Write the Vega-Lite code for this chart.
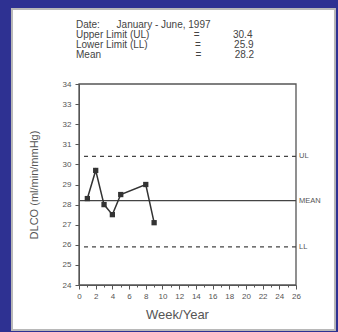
{
  "$schema": "https://vega.github.io/schema/vega-lite/v6.json",
  "width": 217,
  "height": 201,
  "autosize": {"type": "none"},
  "padding": {"left": 79, "top": 84, "right": 42, "bottom": 47},
  "background": "#2e3192",
  "config": {
    "view": {"stroke": null},
    "font": "Liberation Sans",
    "axisX": {
      "values": [0,1,2,3,4,5,6,7,8,9,10,11,12,13,14,15,16,17,18,19,20,21,22,23,24,25,26],
      "tickCount": 26,
      "labelExpr": "datum.value % 2 == 0 ? datum.label : ''",
      "tickSize": 4,
      "grid": false, "domainColor": "#555", "tickColor": "#555",
      "labelFontSize": 8, "labelColor": "#555", "labelPadding": 3, "labelFlush": false, "labelOverlap": false,
      "titleFontSize": 13, "titleFontWeight": "normal", "titleColor": "#555", "titlePadding": 8, "titleX": 98
    },
    "axisY": {
      "values": [24,25,26,27,28,29,30,31,32,33,34],
      "tickCount": 10,
      "tickSize": 4, "grid": false, "domainColor": "#555", "tickColor": "#555",
      "labelFontSize": 8, "labelColor": "#555", "labelPadding": 4,
      "titleFontSize": 11, "titleFontWeight": "normal", "titleColor": "#555", "titlePadding": 23
    }
  },
  "title": {
    "text": [
      "Date:\u00a0\u00a0\u00a0\u00a0\u00a0\u00a0January - June, 1997",
      "Upper Limit (UL)\u00a0\u00a0\u00a0\u00a0\u00a0\u00a0\u00a0\u00a0\u00a0\u00a0\u00a0\u00a0\u00a0\u00a0\u00a0\u00a0=\u00a0\u00a0\u00a0\u00a0\u00a0\u00a0\u00a0\u00a0\u00a0\u00a0\u00a0\u00a030.4",
      "Lower Limit (LL)\u00a0\u00a0\u00a0\u00a0\u00a0\u00a0\u00a0\u00a0\u00a0\u00a0\u00a0\u00a0\u00a0\u00a0\u00a0\u00a0\u00a0=\u00a0\u00a0\u00a0\u00a0\u00a0\u00a0\u00a0\u00a0\u00a0\u00a0\u00a0\u00a025.9",
      "Mean\u00a0\u00a0\u00a0\u00a0\u00a0\u00a0\u00a0\u00a0\u00a0\u00a0\u00a0\u00a0\u00a0\u00a0\u00a0\u00a0\u00a0\u00a0\u00a0\u00a0\u00a0\u00a0\u00a0\u00a0\u00a0\u00a0\u00a0\u00a0\u00a0\u00a0\u00a0\u00a0\u00a0\u00a0=\u00a0\u00a0\u00a0\u00a0\u00a0\u00a0\u00a0\u00a0\u00a0\u00a0\u00a0\u00a028.2"
    ],
    "anchor": "start",
    "frame": "group",
    "dx": -3,
    "offset": -52,
    "fontSize": 10,
    "fontWeight": "normal",
    "color": "#444",
    "lineHeight": 10,
    "zindex": 1
  },
  "datasets": {
    "limits": [
      {"name": "UL", "value": 30.4},
      {"name": "MEAN", "value": 28.2},
      {"name": "LL", "value": 25.9}
    ],
    "dlco": [
      {"week": 1, "dlco": 28.3},
      {"week": 2, "dlco": 29.7},
      {"week": 3, "dlco": 28.0},
      {"week": 4, "dlco": 27.5},
      {"week": 5, "dlco": 28.5},
      {"week": 8, "dlco": 29.0},
      {"week": 9, "dlco": 27.1}
    ]
  },
  "layer": [
    {
      "data": {"values": [{}]},
      "mark": {"type": "rect", "fill": "white", "stroke": "#b8b8b8", "strokeWidth": 2},
      "encoding": {
        "x": {"datum": -8.03, "type": "quantitative", "scale": {"domain": [0, 26], "nice": false, "zero": false}, "title": "Week/Year", "axis": {"zindex": 1, "tickSize": {"condition": {"test": "datum.value % 2 == 1", "value": 2}, "value": 4}}},
        "x2": {"datum": 30.67},
        "y": {"datum": 21.76, "type": "quantitative", "scale": {"domain": [24, 34], "nice": false, "zero": false}, "title": "DLCO (ml/min/mmHg)", "axis": {"zindex": 1}},
        "y2": {"datum": 37.73}
      }
    },
    {
      "data": {"values": [{}]},
      "mark": {"type": "rect", "fill": null, "stroke": "#555", "strokeWidth": 1.3},
      "encoding": {
        "x": {"datum": 0, "type": "quantitative", "title": "Week/Year", "axis": {"zindex": 1, "tickSize": {"condition": {"test": "datum.value % 2 == 1", "value": 2}, "value": 4}}},
        "x2": {"datum": 26},
        "y": {"datum": 24, "type": "quantitative", "title": "DLCO (ml/min/mmHg)", "axis": {"zindex": 1}},
        "y2": {"datum": 34}
      }
    },
    {
      "data": {"name": "limits"},
      "mark": {"type": "rule", "color": "#444", "strokeWidth": 1.2},
      "encoding": {
        "y": {"field": "value", "type": "quantitative", "title": "DLCO (ml/min/mmHg)", "axis": {"zindex": 1}},
        "strokeDash": {"field": "name", "type": "nominal", "scale": {"domain": ["UL", "MEAN", "LL"], "range": [[4, 4], [1, 0], [4, 4]]}, "legend": null}
      }
    },
    {
      "data": {"name": "limits"},
      "mark": {"type": "text", "align": "left", "dx": 3, "fontSize": 7.5, "color": "#555"},
      "encoding": {
        "x": {"datum": 26, "type": "quantitative", "title": "Week/Year", "axis": {"zindex": 1, "tickSize": {"condition": {"test": "datum.value % 2 == 1", "value": 2}, "value": 4}}},
        "y": {"field": "value", "type": "quantitative", "title": "DLCO (ml/min/mmHg)", "axis": {"zindex": 1}},
        "text": {"field": "name"}
      }
    },
    {
      "data": {"name": "dlco"},
      "mark": {"type": "line", "color": "#333", "strokeWidth": 1.5, "point": {"shape": "square", "size": 28, "filled": true, "color": "#333"}},
      "encoding": {
        "x": {"field": "week", "type": "quantitative", "title": "Week/Year", "axis": {"zindex": 1, "tickSize": {"condition": {"test": "datum.value % 2 == 1", "value": 2}, "value": 4}}},
        "y": {"field": "dlco", "type": "quantitative", "title": "DLCO (ml/min/mmHg)", "axis": {"zindex": 1}}
      }
    }
  ]
}
